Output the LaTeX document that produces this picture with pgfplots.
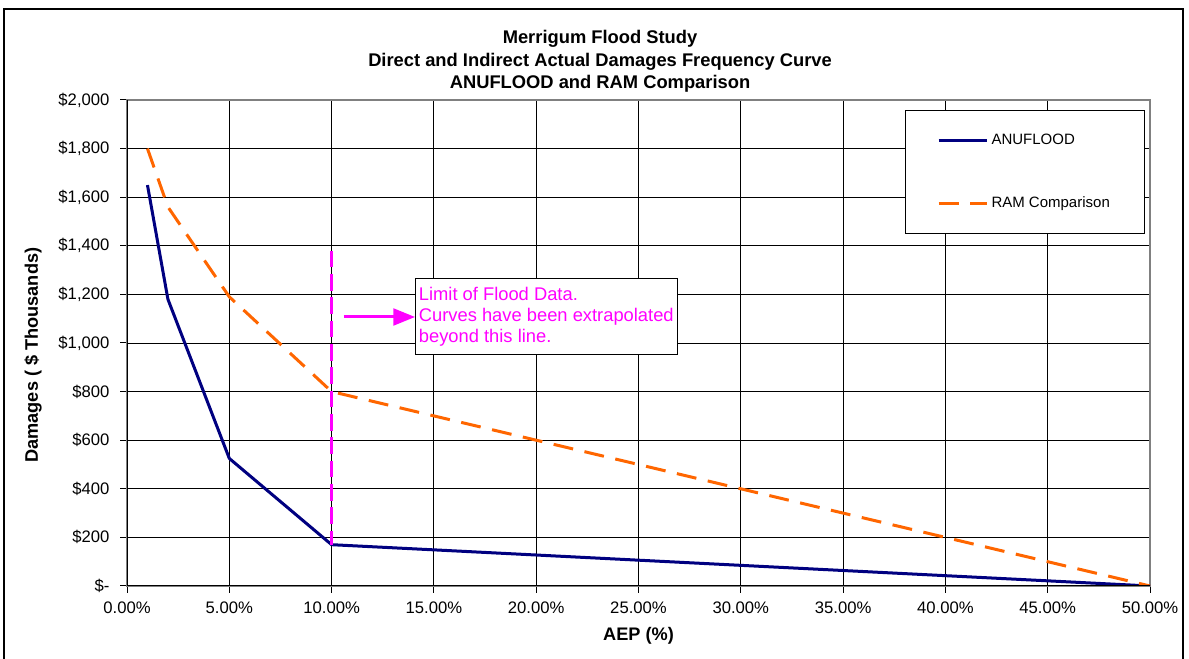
\documentclass[border=0pt]{standalone}
\usepackage{pgfplots}
\pgfplotsset{compat=1.18}
\usetikzlibrary{arrows.meta}
\usepackage{fontspec}
\setmainfont{Liberation Sans}

\definecolor{anu}{RGB}{0,0,128}
\definecolor{ram}{RGB}{255,102,0}
\definecolor{mag}{RGB}{255,0,255}

\begin{document}
\begin{tikzpicture}
% page = chart area (1 px of the reference = 0.6pt)
\useasboundingbox (-76.2pt,-43.8pt) rectangle (637.2pt,351.6pt);
\draw[line width=1.2pt] (-73.8pt,-80pt) rectangle (633.6pt,346.2pt);

\begin{axis}[
    at={(0pt,0pt)}, anchor=south west,
    scale only axis,
    width=613.8pt, height=291.6pt,
    xmin=0, xmax=50, ymin=0, ymax=2000,
    xtick={0,5,...,50},
    xticklabels={0.00\%,5.00\%,10.00\%,15.00\%,20.00\%,25.00\%,30.00\%,35.00\%,40.00\%,45.00\%,50.00\%},
    ytick={0,200,...,2000},
    yticklabels={{\$-},{\$200},{\$400},{\$600},{\$800},{\$1,000},{\$1,200},{\$1,400},{\$1,600},{\$1,800},{\$2,000}},
    ticklabel style={font=\fontsize{10}{11}\selectfont},
    yticklabel style={xshift=-3pt},
    xticklabel style={yshift=-2pt},
    xtick pos=bottom, ytick pos=left,
    grid=major,
    major grid style={black, line width=0.5pt},
    axis line style={black!50, line width=0.9pt},
    tick align=outside, major tick length=4pt,
    tick style={black, line width=0.6pt},
    xlabel={AEP (\%)},
    xlabel style={font=\bfseries\fontsize{10.9}{12}\selectfont, at={(axis description cs:0.5,-0.103)}, anchor=center},
    ylabel={Damages ( \$ Thousands)},
    ylabel style={font=\bfseries\fontsize{10.9}{12}\selectfont, at={(axis description cs:-0.0919,0.475)}, anchor=center},
    title={Merrigum Flood Study\\Direct and Indirect Actual Damages Frequency Curve\\ANUFLOOD and RAM Comparison},
    title style={font=\bfseries\fontsize{11}{13.4}\selectfont, align=center, at={(axis description cs:0.4624,1)}, anchor=south, yshift=-5pt},
    legend style={at={(axis description cs:0.7605,0.9794)}, anchor=north west,
        draw=black, line width=0.6pt, fill=white,
        inner xsep=19pt, inner ysep=12pt, row sep=26pt,
        font=\fontsize{9}{11}\selectfont},
    legend cell align=left,
    legend image code/.code={\draw[#1] (0pt,0pt) -- (28.8pt,0pt);},
]
\addplot[anu, line width=1.8pt] coordinates {
    (1,1650) (2,1180) (5,525) (10,170) (50,0)
};
\addlegendentry{ANUFLOOD}
\addplot[ram, line width=1.8pt, dash pattern=on 12pt off 7pt] coordinates {
    (1,1800) (2,1560) (5,1190) (10,800) (50,0)
};
\addlegendentry{RAM Comparison}

% limit of flood data
\addplot[mag, line width=1.8pt, dash pattern=on 10pt off 4pt, forget plot] coordinates {
    (10,1380) (10,170)
};
\draw[mag, line width=1.8pt, -{Triangle[length=13pt, width=10pt]}]
    (axis cs:10.6,1107) -- (axis cs:14.08,1107);
\node[draw=black, line width=0.6pt, fill=white, text=mag, align=left,
      anchor=north west, inner xsep=2pt, inner ysep=5pt,
      font=\fontsize{11}{12.6}\selectfont]
    at (axis cs:14.08,1267) {Limit of Flood Data.\\Curves have been extrapolated\\beyond this line.};

\draw[black, line width=0.9pt] (axis cs:0,2000) -- (axis cs:0,0) -- (axis cs:50,0);
\end{axis}
\end{tikzpicture}
\end{document}
